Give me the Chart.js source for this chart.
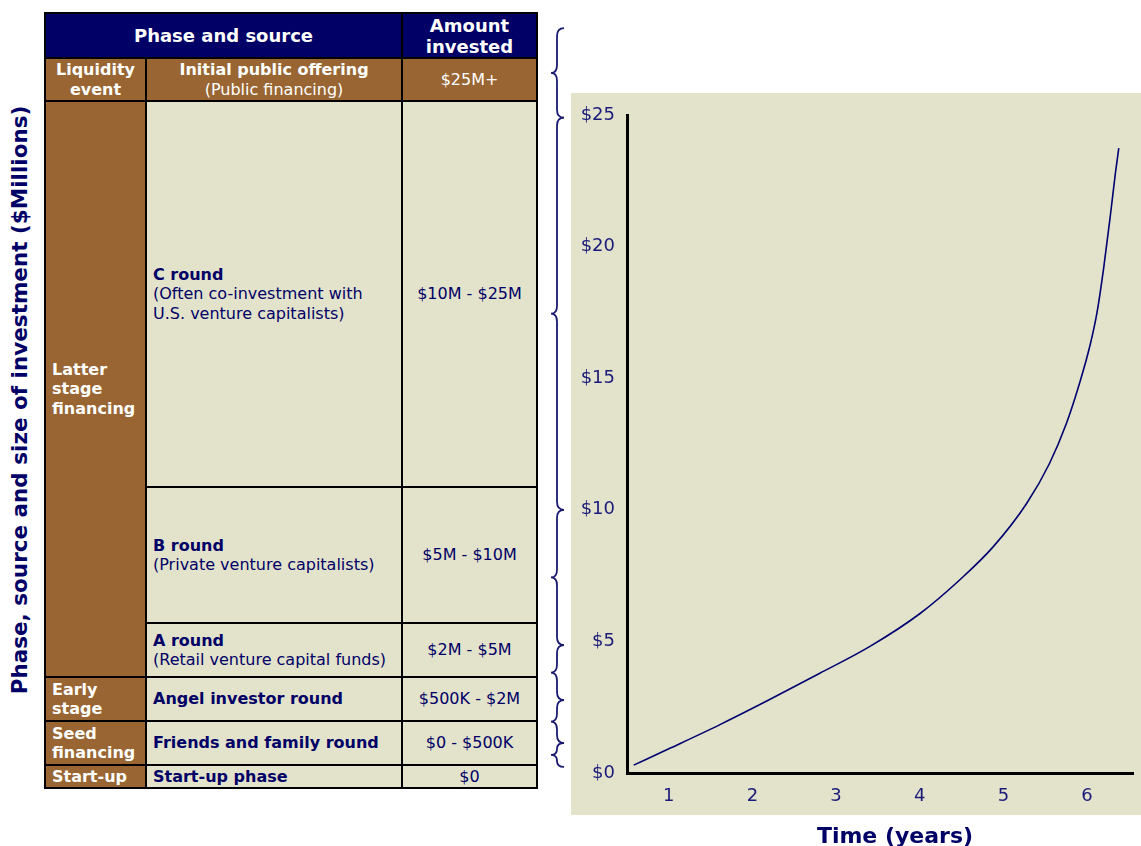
<!DOCTYPE html>
<html>
<head>
<meta charset="utf-8">
<script src="https://cdn.jsdelivr.net/npm/chart.js@4.4.1/dist/chart.umd.min.js"></script>
<style>
  body { margin: 0; width: 1141px; height: 846px; background: #fff; position: relative; overflow: hidden;
         font-family: 'DejaVu Sans', Verdana, sans-serif; }
  #ytitle { position: absolute; left: 19px; top: 400px; transform: translate(-50%, -50%) rotate(-90deg);
            white-space: nowrap; font-weight: bold; font-size: 21.5px; color: #000066; }
  #xtitle { position: absolute; left: 895px; top: 835px; transform: translate(-50%, -50%);
            white-space: nowrap; font-weight: bold; font-size: 22px; color: #000066; }
  #table { position: absolute; left: 44px; top: 12px; width: 490px; height: 773px; padding: 2px; background: #000;
           display: grid; grid-template-columns: 99px 254px 133px;
           grid-template-rows: 43px 41px 384px 134px 52px 42px 42px 21px; gap: 2px; }
  .cell { display: flex; flex-direction: column; justify-content: center; font-size: 16px; line-height: 19.5px; overflow: hidden; }
  .head { background: #000066; color: #fff; font-weight: bold; font-size: 18px; line-height: 21px; align-items: center; text-align: center; }
  .brown { background: #996633; color: #fff; }
  .cream { background: #E3E3CB; color: #000066; }
  .stage { font-weight: bold; padding-left: 6px; }
  .src { padding-left: 6px; }
  .src b { font-weight: bold; }
  .mid { align-items: center; text-align: center; padding-left: 0; }
  #chart { position: absolute; left: 540px; top: 0; }
</style>
</head>
<body>
<div id="ytitle">Phase, source and size of investment ($Millions)</div>

<div id="table">
  <div class="cell head" style="grid-column: 1 / 3;">Phase and source</div>
  <div class="cell head">Amount<br>invested</div>

  <div class="cell brown stage mid">Liquidity<br>event</div>
  <div class="cell brown mid"><b>Initial public offering</b><span>(Public financing)</span></div>
  <div class="cell brown mid">$25M+</div>

  <div class="cell brown stage" style="grid-row: 3 / 6;">Latter<br>stage<br>financing</div>
  <div class="cell cream src"><b>C round</b><span>(Often co-investment with<br>U.S. venture capitalists)</span></div>
  <div class="cell cream mid">$10M - $25M</div>
  <div class="cell cream src"><b>B round</b><span>(Private venture capitalists)</span></div>
  <div class="cell cream mid">$5M - $10M</div>
  <div class="cell cream src"><b>A round</b><span>(Retail venture capital funds)</span></div>
  <div class="cell cream mid">$2M - $5M</div>

  <div class="cell brown stage">Early<br>stage</div>
  <div class="cell cream src"><b>Angel investor round</b></div>
  <div class="cell cream mid">$500K - $2M</div>

  <div class="cell brown stage">Seed<br>financing</div>
  <div class="cell cream src"><b>Friends and family round</b></div>
  <div class="cell cream mid">$0 - $500K</div>

  <div class="cell brown stage">Start-up</div>
  <div class="cell cream src"><b>Start-up phase</b></div>
  <div class="cell cream mid">$0</div>
</div>

<canvas id="chart" width="601" height="846"></canvas>
<div id="xtitle">Time (years)</div>

<script>
// curve: time in years, investment in $M
const years = [0.58, 1.0, 1.6, 2.2, 2.8, 3.4, 4.0, 4.5, 4.88, 5.28, 5.55, 5.75, 5.91, 6.04, 6.12, 6.2, 6.28, 6.34, 6.38];
const invested = [0.3, 0.92, 1.82, 2.78, 3.78, 4.8, 6.05, 7.4, 8.6, 10.25, 11.75, 13.25, 14.8, 16.3, 17.5, 19.2, 21.2, 22.8, 23.74];

const yearTicks = [1, 2, 3, 4, 5, 6];
const dollarTicks = [0, 5, 10, 15, 20, 25];

// braces linking each table row to the y scale ($M)
const braceLow = [24.9, 10, 4.86, 2.77, 1.14, 0.23];
const braceHigh = [28.3, 24.9, 10, 4.86, 2.77, 1.14];

const navy = '#000066';
Chart.defaults.font.family = "'DejaVu Sans', Verdana, sans-serif";

const panel = {
  id: 'panel',
  beforeDraw(chart) {
    const { ctx } = chart;
    ctx.save();
    ctx.fillStyle = '#E3E3CB';
    ctx.fillRect(31, 93, chart.width - 31, 722);
    ctx.restore();
  },
};

const braces = {
  id: 'braces',
  afterDraw(chart) {
    const { ctx } = chart;
    const y = chart.scales.y;
    const tip = 11, line = 17, end = 24;
    ctx.save();
    ctx.strokeStyle = '#1a1a70';
    ctx.lineWidth = 1.8;
    braceLow.forEach((lo, i) => {
      const y1 = y.getPixelForValue(braceHigh[i]);
      const y2 = y.getPixelForValue(lo);
      const mid = (y1 + y2) / 2;
      const r = Math.min(8, (y2 - y1) / 4);
      ctx.beginPath();
      ctx.moveTo(end, y1);
      ctx.quadraticCurveTo(line, y1, line, y1 + r);
      ctx.lineTo(line, mid - r);
      ctx.quadraticCurveTo(line, mid, tip, mid);
      ctx.quadraticCurveTo(line, mid, line, mid + r);
      ctx.lineTo(line, y2 - r);
      ctx.quadraticCurveTo(line, y2, end, y2);
      ctx.stroke();
    });
    ctx.restore();
  },
};

const axisGrid = { display: true, drawOnChartArea: false, drawTicks: false };
const axisBorder = { display: true, color: '#000', width: 3 };

new Chart(document.getElementById('chart'), {
  type: 'line',
  data: {
    datasets: [{
      data: years.map((x, i) => ({ x, y: invested[i] })),
      borderColor: '#000070',
      borderWidth: 1.6,
      pointRadius: 0,
      cubicInterpolationMode: 'monotone',
      fill: false,
    }],
  },
  options: {
    responsive: false,
    animation: false,
    layout: { padding: { top: 115, right: 8, left: 0, bottom: 0 } },
    plugins: { legend: { display: false }, tooltip: { enabled: false } },
    scales: {
      x: {
        type: 'linear',
        min: 0.5,
        max: 6.55,
        afterFit: (s) => { s.height = 73; },
        afterBuildTicks: (s) => { s.ticks = yearTicks.map((v) => ({ value: v })); },
        grid: axisGrid,
        border: axisBorder,
        ticks: { padding: 13, color: '#1a1a7a', font: { size: 18 }, maxRotation: 0, autoSkip: false },
      },
      y: {
        type: 'linear',
        min: 0,
        max: 25,
        afterFit: (s) => { s.width = 87; },
        afterBuildTicks: (s) => { s.ticks = dollarTicks.map((v) => ({ value: v })); },
        grid: axisGrid,
        border: axisBorder,
        ticks: { padding: 12, color: '#1a1a7a', font: { size: 18 }, callback: (v) => `$${v}` },
      },
    },
  },
  plugins: [panel, braces],
});
</script>
</body>
</html>
